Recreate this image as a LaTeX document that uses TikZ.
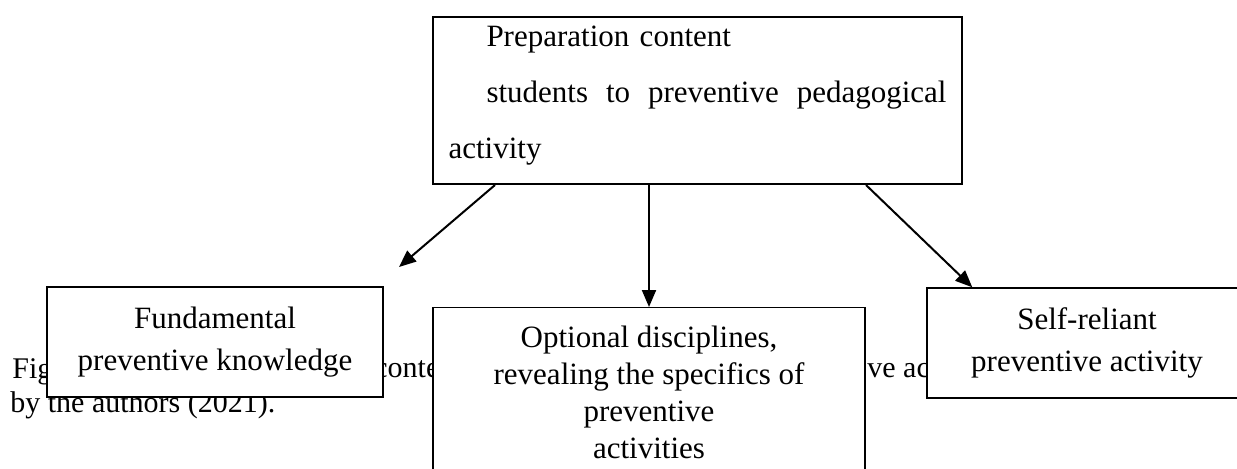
\documentclass[tikz,border=0pt]{standalone}
\usepackage{fontspec}
\setmainfont{Liberation Serif}
\usetikzlibrary{arrows.meta,positioning}

\begin{document}
\begin{tikzpicture}[x=0.5pt, y=-0.5pt,
    stagebox/.style={draw, line width=0.7pt, fill=white, align=center,
                inner sep=0pt, font=\fontsize{15.5}{21}\selectfont},
    capfrag/.style={anchor=base west, inner sep=0pt, font=\fontsize{15}{17}\selectfont},
    arr/.style={-{Triangle[length=8.5pt, width=7pt]}, line width=1pt}
  ]
    \path[use as bounding box, clip] (0,0) rectangle (1237,468);

    % Caption text behind the boxes
    \node[capfrag] (capfig)   at (12,378)  {Fig};
    \node[capfrag] (capconte) at (374,377) {conte};
    \node[capfrag] (capveac)  at (867,377) {ve ac};
    \node[capfrag] (capby)    at (10,412)  {by the authors (2021).};

    % Main box
    \node[stagebox, line width=1pt, align=left, text width=249pt,
          minimum width=264.5pt, minimum height=83.5pt,
          font=\fontsize{15.5}{28}\selectfont] (prep) at (697.5,100.5)
      {\hspace*{19pt}Preparation content\\
       \hspace*{19pt}students\hfill to\hfill preventive\hfill pedagogical\\
       activity\rule[-8pt]{0pt}{0pt}};

    % Lower boxes
    \node[stagebox, minimum width=168pt, minimum height=55pt] (fund) at (215,342)
      {Fundamental\\preventive knowledge};
    \node[stagebox, minimum width=216pt, inner ysep=9pt, anchor=north,
          font=\fontsize{15.5}{18.5}\selectfont] (opt) at (649,307)
      {Optional disciplines,\\revealing the specifics of\\preventive\\
       activities\rule[-40pt]{0pt}{0pt}};
    \node[stagebox, minimum width=160pt, minimum height=55pt] (self) at (1087,343)
      {Self-reliant\\preventive activity};

    % Arrows
    \coordinate (fundtip) at (399,267);
    \draw[arr] ([xshift=31.5pt]prep.south west) -- (fundtip);
    \draw[arr] (prep.south -| opt.north) -- (opt.north);
    \draw[arr] ([xshift=-48.5pt]prep.south east) -- ([xshift=23pt]self.north west);
  \end{tikzpicture}
\end{document}
